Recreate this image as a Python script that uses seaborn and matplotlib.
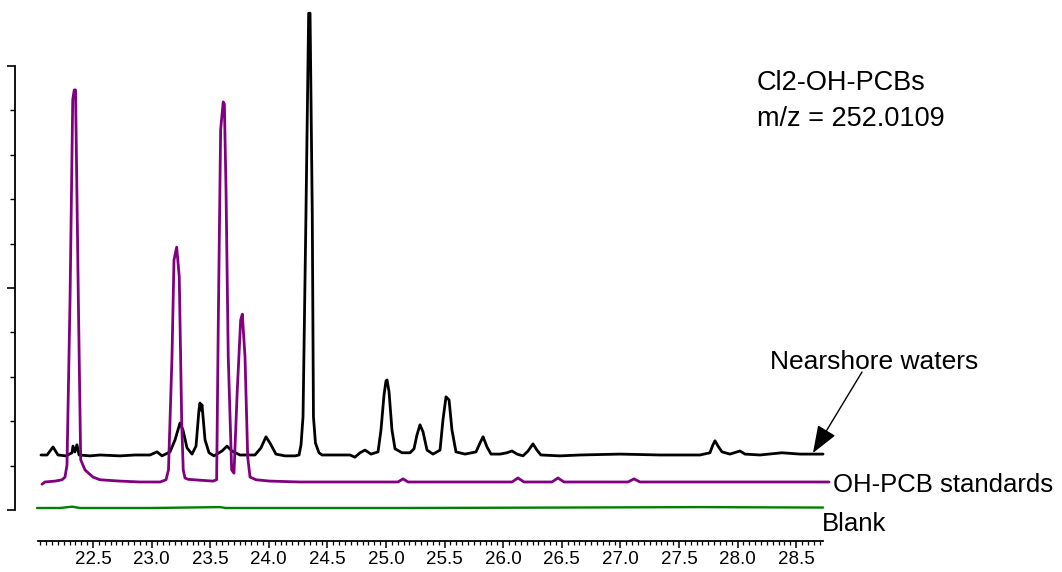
import numpy as np
import pandas as pd
import matplotlib
matplotlib.use("Agg")
import matplotlib.pyplot as plt
import seaborn as sns
from matplotlib.ticker import FixedLocator, NullFormatter

# ---------------- data (retention time in min, relative intensity) ----------------
nearshore_rt = [22.056, 22.108, 22.159, 22.201, 22.270, 22.321, 22.329, 22.346, 22.363, 22.381,
                22.474, 22.560, 22.730, 22.858, 22.986, 23.046, 23.089, 23.157, 23.200, 23.242,
                23.268, 23.302, 23.345, 23.379, 23.404, 23.413, 23.421, 23.430, 23.456, 23.490,
                23.532, 23.601, 23.643, 23.686, 23.754, 23.882, 23.933, 23.976, 24.010, 24.061,
                24.138, 24.224, 24.258, 24.275, 24.292, 24.317, 24.340, 24.352, 24.371, 24.381,
                24.398, 24.428, 24.454, 24.565, 24.693, 24.735, 24.778, 24.821, 24.872, 24.932,
                24.957, 24.983, 25.000, 25.009, 25.026, 25.051, 25.077, 25.137, 25.205, 25.239,
                25.264, 25.290, 25.316, 25.350, 25.401, 25.461, 25.486, 25.512, 25.538, 25.563,
                25.597, 25.674, 25.768, 25.802, 25.828, 25.862, 25.896, 25.973, 26.032, 26.075,
                26.118, 26.169, 26.212, 26.254, 26.288, 26.322, 26.485, 26.655, 26.997, 27.338,
                27.679, 27.764, 27.790, 27.807, 27.833, 27.867, 27.935, 28.020, 28.063, 28.191,
                28.379, 28.532, 28.660, 28.729]
nearshore_int = [0.00, 0.00, 0.18, 0.00, -0.02, 0.05, 0.20, 0.07, 0.23, 0.00,
                 -0.02, 0.00, -0.02, 0.00, 0.00, 0.07, -0.02, 0.07, 0.34, 0.72,
                 0.56, 0.16, 0.02, 0.20, 1.01, 1.17, 1.01, 1.13, 0.34, 0.05,
                 -0.02, 0.09, 0.20, 0.09, 0.00, 0.00, 0.16, 0.41, 0.27, 0.02,
                 -0.02, -0.02, 0.00, 0.23, 0.86, 5.41, 9.95, 9.95, 5.41, 0.86,
                 0.27, 0.05, 0.00, 0.00, 0.00, -0.05, 0.05, 0.11, 0.02, 0.07,
                 0.56, 1.35, 1.67, 1.69, 1.42, 0.56, 0.14, 0.05, 0.05, 0.14,
                 0.45, 0.68, 0.52, 0.11, 0.02, 0.11, 0.79, 1.31, 1.24, 0.56,
                 0.07, 0.02, 0.07, 0.27, 0.41, 0.18, 0.02, 0.02, 0.05, 0.09,
                 0.02, -0.02, 0.09, 0.25, 0.11, 0.00, -0.02, 0.00, 0.02, 0.00,
                 0.00, 0.05, 0.23, 0.32, 0.20, 0.07, 0.02, 0.09, 0.02, 0.00,
                 0.05, 0.02, 0.02, 0.02]

standards_rt = [22.065, 22.090, 22.176, 22.236, 22.261, 22.278, 22.304, 22.327, 22.340, 22.351,
                22.375, 22.395, 22.432, 22.500, 22.560, 22.730, 22.901, 23.072, 23.123, 23.144,
                23.174, 23.191, 23.214, 23.236, 23.257, 23.270, 23.285, 23.311, 23.413, 23.524,
                23.555, 23.569, 23.589, 23.611, 23.621, 23.635, 23.654, 23.683, 23.703, 23.731,
                23.760, 23.774, 23.797, 23.820, 23.840, 23.891, 24.010, 24.266, 24.693, 25.102,
                25.145, 25.188, 25.546, 26.075, 26.126, 26.177, 26.416, 26.467, 26.519, 26.826,
                27.065, 27.116, 27.167, 27.679, 28.191, 28.780]
standards_int = [-0.05, 0.00, 0.02, 0.05, 0.11, 0.38, 4.10, 8.61, 8.83, 8.83,
                 4.10, 0.50, 0.27, 0.11, 0.05, 0.02, 0.00, 0.00, 0.05, 0.27,
                 2.82, 5.00, 5.29, 4.62, 1.33, 0.27, 0.09, 0.06, 0.04, 0.02,
                 0.05, 3.58, 7.93, 8.56, 8.51, 6.58, 2.82, 0.27, 0.20, 2.07,
                 3.65, 3.78, 2.82, 0.56, 0.11, 0.05, 0.02, 0.00, 0.00, 0.00,
                 0.07, 0.00, 0.00, 0.00, 0.09, 0.00, 0.00, 0.09, 0.00, 0.00,
                 0.00, 0.07, 0.00, 0.00, 0.00, 0.00]

blank_rt = [22.022, 22.218, 22.321, 22.389, 22.986, 23.584, 23.635, 25.119, 26.485, 27.679, 28.729]
blank_int = [0.00, 0.00, 0.03, 0.00, 0.00, 0.02, 0.00, 0.00, 0.01, 0.02, 0.01]

x_tick_values = [22.5, 23.0, 23.5, 24.0, 24.5, 25.0, 25.5, 26.0, 26.5, 27.0, 27.5, 28.0, 28.5]
x_tick_labels = ["22.5", "23.0", "23.5", "24.0", "24.5", "25.0", "25.5",
                 "26.0", "26.5", "27.0", "27.5", "28.0", "28.5"]

trace_names = ["Nearshore waters", "OH-PCB standards", "Blank"]
trace_colors = ["#000000", "#800080", "#008000"]
trace_offsets = [1.239, 0.631, 0.045]

# ---------------- figure ----------------
sns.set_style("white")
plt.rcParams["font.family"] = ["Liberation Sans", "DejaVu Sans"]
plt.rcParams["text.color"] = "black"
plt.rcParams["xtick.color"] = "black"
plt.rcParams["ytick.color"] = "black"

W, H = 1062, 572
fig = plt.figure(figsize=(W / 100, H / 100), dpi=100)
xl, xr = 22.0, 28.8
px_per_unit = 117.2
ax_left_px = 93 + (xl - 22.5) * px_per_unit
ax_width_px = (xr - xl) * px_per_unit
ax = fig.add_axes([ax_left_px / W, (H - 541) / H, ax_width_px / W, 541 / H])

frames = []
for name, rt, inten, off in zip(trace_names,
                                [nearshore_rt, standards_rt, blank_rt],
                                [nearshore_int, standards_int, blank_int],
                                trace_offsets):
    frames.append(pd.DataFrame({"rt": rt, "signal": np.array(inten) + off, "trace": name}))
df = pd.concat(frames, ignore_index=True)

for name, color, lw in zip(trace_names, trace_colors, [2.0, 2.0, 1.7]):
    sub = df[df["trace"] == name]
    sns.lineplot(data=sub, x="rt", y="signal", color=color, lw=lw, ax=ax,
                 sort=False, estimator=None, legend=False, clip_on=False)

ax.set_xlim(xl, xr)
ax.set_ylim((510 - 541) / 44.4, 510 / 44.4)
ax.set_xlabel("")
ax.set_ylabel("")

for s in ["top", "right"]:
    ax.spines[s].set_visible(False)
ax.spines["bottom"].set_bounds(22.03, 28.73)
ax.spines["left"].set_bounds(0, 10)
ax.spines["left"].set_position(("axes", (15 - ax_left_px) / ax_width_px))
for s in ["bottom", "left"]:
    ax.spines[s].set_linewidth(1.3)
    ax.spines[s].set_color("black")

ax.set_xticks(x_tick_values)
ax.set_xticklabels(x_tick_labels, fontsize=13.5)
minor_x = [v for v in np.round(np.arange(22.05, 28.71, 0.05), 2) if round(v * 2, 4) % 1 != 0]
ax.xaxis.set_minor_locator(FixedLocator(minor_x))
ax.tick_params(axis="x", which="both", bottom=True, top=False)
ax.tick_params(axis="x", which="major", direction="out", length=5, width=1.1, pad=2, colors="black")
ax.tick_params(axis="x", which="minor", direction="out", length=3, width=0.9, colors="black")

ax.set_yticks([0, 5, 10])
ax.yaxis.set_minor_locator(FixedLocator([1, 2, 3, 4, 6, 7, 8, 9]))
ax.yaxis.set_major_formatter(NullFormatter())
ax.tick_params(axis="y", which="both", left=True, right=False)
ax.tick_params(axis="y", which="major", direction="out", length=6, width=1.2, colors="black")
ax.tick_params(axis="y", which="minor", direction="out", length=3.5, width=1.0, colors="black")

# ---------------- annotations ----------------
def fy(py):
    return (H - py) / H

fig.text(757 / W, fy(90), "Cl2-OH-PCBs", fontsize=19.5, va="baseline", ha="left", color="black")
fig.text(757 / W, fy(126), "m/z = 252.0109", fontsize=19.5, va="baseline", ha="left", color="black")
fig.text(770 / W, fy(369), "Nearshore waters", fontsize=19, va="baseline", ha="left", color="black")
fig.text(833 / W, fy(492), "OH-PCB standards", fontsize=18.5, va="baseline", ha="left", color="black")
fig.text(822 / W, fy(531), "Blank", fontsize=18.5, va="baseline", ha="left", color="black")

ax.annotate("", xy=(28.643, (510 - 453) / 44.4), xycoords="data",
            xytext=(862, H - 372), textcoords="figure pixels",
            arrowprops=dict(arrowstyle="-|>,head_length=0.85,head_width=0.32",
                            mutation_scale=20, lw=1.0, color="black",
                            shrinkA=0, shrinkB=0))

fig.savefig("out.png", dpi=100)
